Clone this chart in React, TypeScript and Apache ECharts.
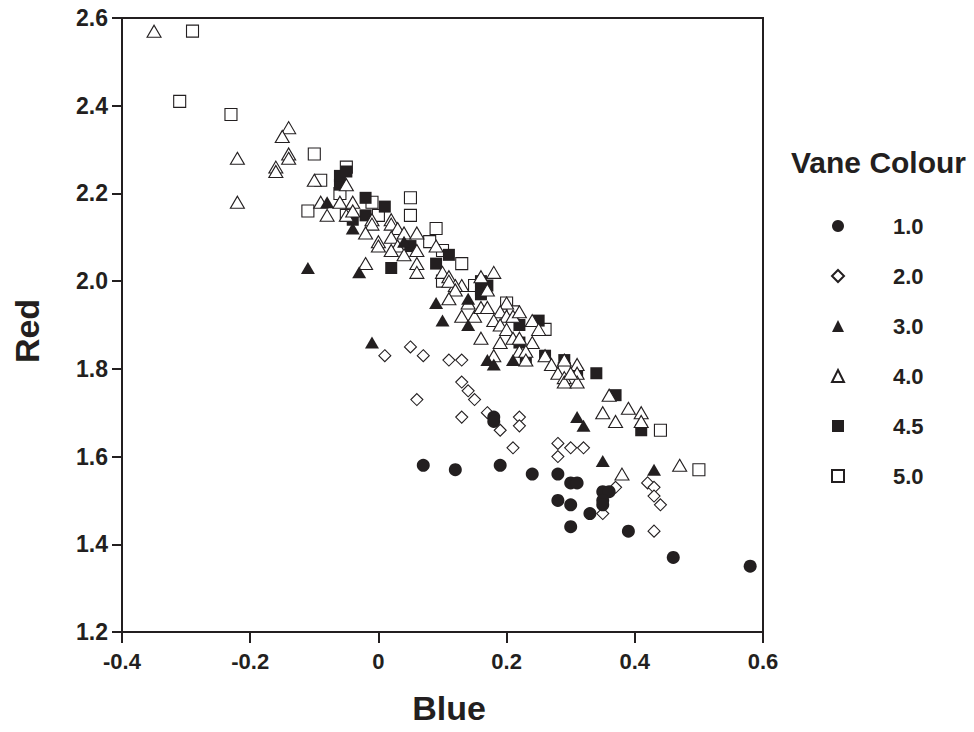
import React, { useEffect, useRef } from 'react';
import * as echarts from 'echarts';

// Legend categories (Vane Colour)
const vaneLabels = ['1.0', '2.0', '3.0', '4.0', '4.5', '5.0'];

// [Blue, Red] pairs per vane colour
const vane10 = [
  [0.07, 1.58], [0.12, 1.57], [0.19, 1.58], [0.18, 1.69], [0.18, 1.68], [0.24, 1.56],
  [0.28, 1.56], [0.30, 1.54], [0.31, 1.54], [0.28, 1.50], [0.30, 1.49], [0.33, 1.47],
  [0.30, 1.44], [0.35, 1.52], [0.36, 1.52], [0.35, 1.50], [0.35, 1.49], [0.39, 1.43],
  [0.46, 1.37], [0.58, 1.35],
];
const vane20 = [
  [0.01, 1.83], [0.05, 1.85], [0.07, 1.83], [0.11, 1.82], [0.13, 1.82], [0.06, 1.73],
  [0.13, 1.77], [0.14, 1.75], [0.15, 1.73], [0.13, 1.69], [0.17, 1.70], [0.19, 1.66],
  [0.22, 1.69], [0.22, 1.67], [0.21, 1.62], [0.28, 1.63], [0.28, 1.60], [0.30, 1.62],
  [0.32, 1.62], [0.37, 1.53], [0.35, 1.47], [0.42, 1.54], [0.43, 1.53], [0.43, 1.51],
  [0.44, 1.49], [0.43, 1.43],
];
const vane30 = [
  [-0.11, 2.03], [-0.08, 2.18], [-0.04, 2.12], [-0.03, 2.02], [-0.01, 1.86], [0.04, 2.09],
  [0.09, 1.95], [0.10, 1.91], [0.14, 1.96], [0.14, 1.90], [0.17, 1.82], [0.18, 1.81],
  [0.21, 1.82], [0.31, 1.69], [0.32, 1.67], [0.35, 1.59], [0.43, 1.57],
];
const vane40 = [
  [-0.35, 2.57], [-0.22, 2.28], [-0.22, 2.18], [-0.14, 2.35], [-0.15, 2.33], [-0.14, 2.29],
  [-0.14, 2.28], [-0.16, 2.26], [-0.16, 2.25], [-0.10, 2.23], [-0.05, 2.22], [-0.09, 2.18],
  [-0.06, 2.18], [-0.04, 2.18], [-0.08, 2.15], [-0.05, 2.15], [-0.04, 2.16], [-0.01, 2.14],
  [-0.01, 2.13], [-0.02, 2.11], [0.02, 2.14], [0.02, 2.13], [0.03, 2.12], [0.04, 2.11],
  [0.06, 2.11], [0.00, 2.09], [0.00, 2.08], [0.02, 2.10], [0.03, 2.08], [0.06, 2.07],
  [0.04, 2.06], [0.02, 2.07], [-0.02, 2.04], [0.06, 2.04], [0.06, 2.02], [0.09, 2.08],
  [0.10, 2.02], [0.11, 2.01], [0.13, 1.99], [0.12, 1.99], [0.11, 2.00], [0.12, 1.98],
  [0.11, 1.96], [0.14, 1.95], [0.13, 1.92], [0.15, 1.92], [0.16, 1.94], [0.17, 1.94],
  [0.18, 2.02], [0.17, 1.98], [0.16, 2.01], [0.20, 1.95], [0.19, 1.93], [0.20, 1.92],
  [0.21, 1.92], [0.22, 1.93], [0.18, 1.91], [0.19, 1.90], [0.20, 1.89], [0.24, 1.91],
  [0.25, 1.89], [0.16, 1.87], [0.19, 1.86], [0.21, 1.87], [0.22, 1.87], [0.24, 1.86],
  [0.22, 1.84], [0.18, 1.83], [0.23, 1.84], [0.23, 1.82], [0.26, 1.83], [0.27, 1.81],
  [0.28, 1.79], [0.29, 1.78], [0.29, 1.82], [0.31, 1.81], [0.31, 1.79], [0.29, 1.77],
  [0.31, 1.77], [0.30, 1.79], [0.35, 1.70], [0.37, 1.68], [0.39, 1.71], [0.41, 1.70],
  [0.41, 1.68], [0.36, 1.74], [0.38, 1.56], [0.47, 1.58],
];
const vane45 = [
  [-0.06, 2.22], [-0.06, 2.24], [-0.05, 2.25], [-0.04, 2.14], [-0.02, 2.19], [-0.02, 2.15],
  [0.01, 2.17], [0.02, 2.03], [0.05, 2.08], [0.09, 2.04], [0.11, 2.06], [0.16, 1.98],
  [0.16, 2.00], [0.17, 1.99], [0.16, 1.97], [0.22, 1.90], [0.25, 1.91], [0.22, 1.86],
  [0.23, 1.82], [0.26, 1.83], [0.29, 1.82], [0.31, 1.79], [0.34, 1.79], [0.37, 1.74],
  [0.41, 1.66],
];
const vane50 = [
  [-0.31, 2.41], [-0.29, 2.57], [-0.23, 2.38], [-0.11, 2.16], [-0.10, 2.29], [-0.09, 2.23],
  [-0.06, 2.20], [-0.05, 2.26], [-0.05, 2.15], [-0.01, 2.18], [0.00, 2.15], [0.05, 2.19],
  [0.05, 2.15], [0.08, 2.09], [0.09, 2.12], [0.10, 2.07], [0.13, 2.04], [0.10, 2.00],
  [0.15, 1.99], [0.20, 1.95], [0.21, 1.93], [0.26, 1.89], [0.29, 1.80], [0.44, 1.66],
  [0.50, 1.57],
];

const FONT = '"Liberation Sans", Arial, Helvetica, sans-serif';
const INK = '#231f20';

export default function App() {
  const ref = useRef<HTMLDivElement>(null);

  useEffect(() => {
    if (!ref.current) return;
    const chart = echarts.init(ref.current, null, { renderer: 'svg' });

    const filled = { color: INK, borderColor: INK, borderWidth: 0, opacity: 1 };
    const open = { color: '#ffffff', borderColor: INK, borderWidth: 1.1, opacity: 1 };

    const defs = [
      { data: vane10, symbol: 'circle', size: 13, style: filled, z: 7 },
      { data: vane20, symbol: 'diamond', size: 12, style: open, z: 6 },
      { data: vane30, symbol: 'triangle', size: [14, 12], style: filled, z: 5 },
      { data: vane40, symbol: 'triangle', size: [14, 12], style: open, z: 4 },
      { data: vane45, symbol: 'rect', size: 12, style: filled, z: 3 },
      { data: vane50, symbol: 'rect', size: 12, style: open, z: 2 },
    ];

    const series = defs.map((d, i) => ({
      name: vaneLabels[i],
      type: 'scatter',
      data: d.data,
      symbol: d.symbol,
      symbolSize: d.size,
      itemStyle: d.style,
      z: d.z,
      emphasis: { disabled: true },
      silent: true,
    }));

    const fmt1 = (v: number) => (Math.round(v * 10) / 10).toFixed(1);
    const fmtX = (v: number) => {
      const r = Math.round(v * 10) / 10;
      return r === 0 ? '0' : String(r);
    };

    chart.setOption({
      animation: false,
      backgroundColor: '#ffffff',
      grid: {
        left: 122,
        top: 18,
        right: 211,
        bottom: 100,
        show: true,
        borderColor: INK,
        borderWidth: 2,
        backgroundColor: 'transparent',
        containLabel: false,
        outerBoundsMode: 'none',
      },
      xAxis: {
        type: 'value',
        min: -0.4,
        max: 0.6,
        interval: 0.2,
        axisLine: { show: true, onZero: false, lineStyle: { color: INK, width: 2 } },
        axisTick: { show: true, inside: false, length: 11, lineStyle: { color: INK, width: 2 } },
        splitLine: { show: false },
        axisLabel: {
          margin: 18,
          color: INK,
          fontFamily: FONT,
          fontWeight: 'bold',
          fontSize: 22,
          formatter: fmtX,
        },
      },
      yAxis: {
        type: 'value',
        min: 1.2,
        max: 2.6,
        interval: 0.2,
        axisLine: { show: true, onZero: false, lineStyle: { color: INK, width: 2 } },
        axisTick: { show: true, inside: false, length: 10, lineStyle: { color: INK, width: 2 } },
        splitLine: { show: false },
        axisLabel: {
          margin: 14,
          color: INK,
          fontFamily: FONT,
          fontWeight: 'bold',
          fontSize: 23,
          formatter: fmt1,
        },
      },
      legend: {
        show: true,
        orient: 'vertical',
        left: 826,
        top: 210,
        itemWidth: 12,
        itemHeight: 12,
        itemGap: 28,
        selectedMode: false,
        data: vaneLabels,
        textStyle: {
          color: INK,
          fontFamily: FONT,
          fontWeight: 'bold',
          fontSize: 22,
          lineHeight: 21,
          padding: [0, 0, 0, 44],
        },
      },
      graphic: [
        {
          type: 'text',
          left: 791,
          top: 147,
          style: {
            text: 'Vane Colour',
            fill: INK,
            font: `bold 30px ${FONT}`,
          },
        },
        {
          type: 'text',
          x: 449,
          y: 708,
          style: {
            text: 'Blue',
            fill: INK,
            font: `bold 34px ${FONT}`,
            align: 'center',
            verticalAlign: 'middle',
          },
        },
        {
          type: 'text',
          x: 27,
          y: 331,
          rotation: Math.PI / 2,
          style: {
            text: 'Red',
            fill: INK,
            font: `bold 34px ${FONT}`,
            align: 'center',
            verticalAlign: 'middle',
          },
        },
      ],
      series,
    });

    return () => chart.dispose();
  }, []);

  return (
    <div
      ref={ref}
      style={{ position: 'absolute', left: 0, top: 0, width: 974, height: 732 }}
    />
  );
}
